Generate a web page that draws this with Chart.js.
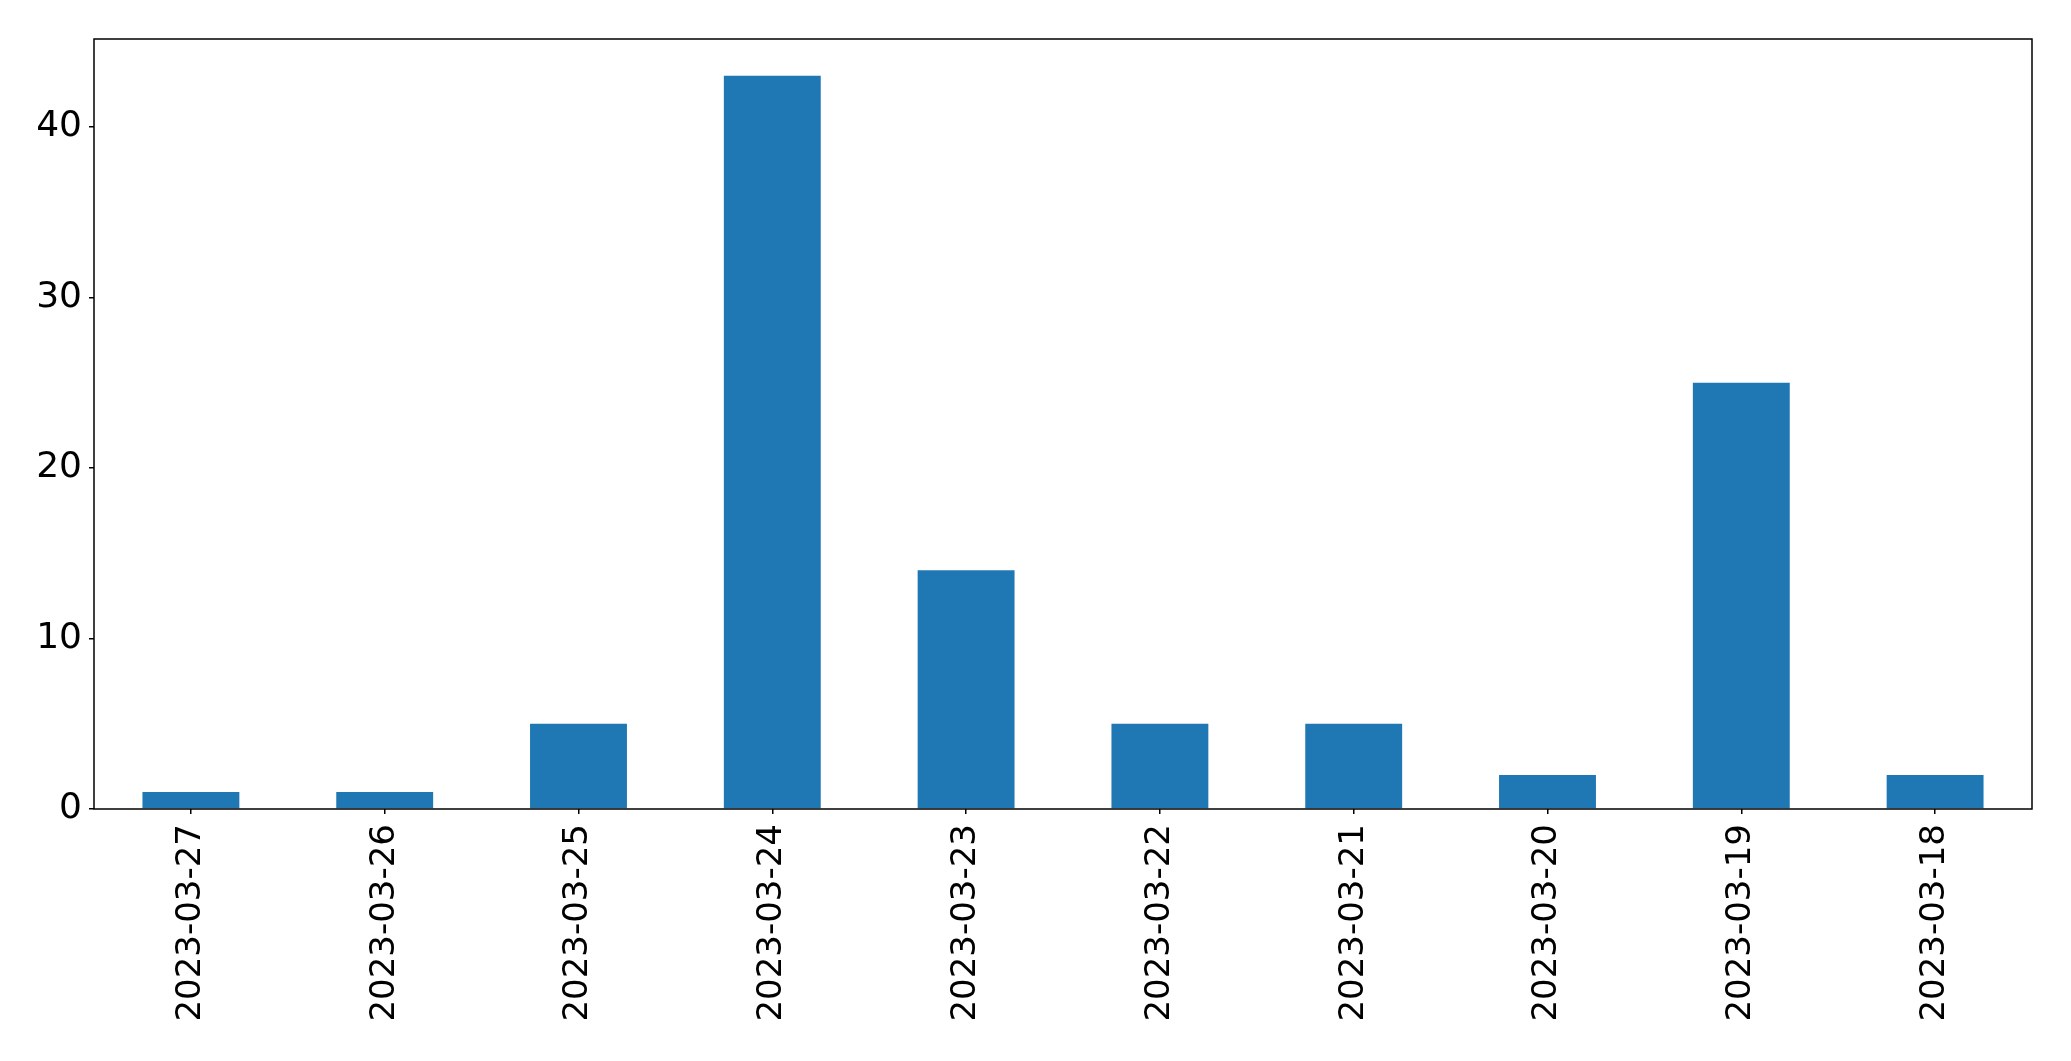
<!DOCTYPE html>
<html>
<head>
<meta charset="utf-8">
<script src="https://cdn.jsdelivr.net/npm/chart.js@4/dist/chart.umd.min.js"></script>
<style>
  html, body { margin: 0; padding: 0; background: #fff; }
  #wrap { width: 2071px; height: 1061px; }
</style>
</head>
<body>
<div id="wrap"><canvas id="barChart"></canvas></div>
<script>
const dates = ['2023-03-27', '2023-03-26', '2023-03-25', '2023-03-24', '2023-03-23',
  '2023-03-22', '2023-03-21', '2023-03-20', '2023-03-19', '2023-03-18'];
const counts = [1, 1, 5, 43, 14, 5, 5, 2, 25, 2];
const yTicks = [0, 10, 20, 30, 40];

// draw the full box around the axes like matplotlib does
const frame = {
  id: 'frame',
  afterDatasetsDraw(chart) {
    const a = chart.chartArea;
    const c = chart.ctx;
    c.save();
    c.strokeStyle = '#000';
    c.lineWidth = 1.5;
    c.strokeRect(a.left, a.top, a.right - a.left, a.bottom - a.top);
    c.restore();
  }
};

const ctx = document.getElementById('barChart').getContext('2d');
new Chart(ctx, {
  type: 'bar',
  data: {
    labels: dates,
    datasets: [{
      data: counts,
      backgroundColor: '#1f77b4',
      barPercentage: 0.5,
      categoryPercentage: 1.0
    }]
  },
  options: {
    responsive: true,
    maintainAspectRatio: false,
    animation: false,
    layout: { padding: { top: 39, right: 39, left: 0, bottom: 0 } },
    plugins: { legend: { display: false }, tooltip: { enabled: false } },
    scales: {
      x: {
        grid: { display: true, offset: false, drawOnChartArea: false, drawTicks: true, tickLength: 5, color: '#000', lineWidth: 1.5 },
        border: { display: false },
        ticks: {
          color: '#000',
          font: { family: 'DejaVu Sans', size: 34 },
          minRotation: 90,
          maxRotation: 90,
          padding: 10,
          autoSkip: false
        },
        afterFit(scale) { scale.height = 252; }
      },
      y: {
        min: 0,
        max: 45.15,
        grid: { display: true, drawOnChartArea: false, drawTicks: true, tickLength: 5, color: '#000', lineWidth: 1.5 },
        border: { display: false },
        ticks: {
          color: '#000',
          font: { family: 'DejaVu Sans', size: 36 },
          padding: 7
        },
        afterBuildTicks(scale) { scale.ticks = yTicks.map(v => ({ value: v })); },
        afterFit(scale) { scale.width = 94; }
      }
    }
  },
  plugins: [frame]
});
</script>
</body>
</html>
